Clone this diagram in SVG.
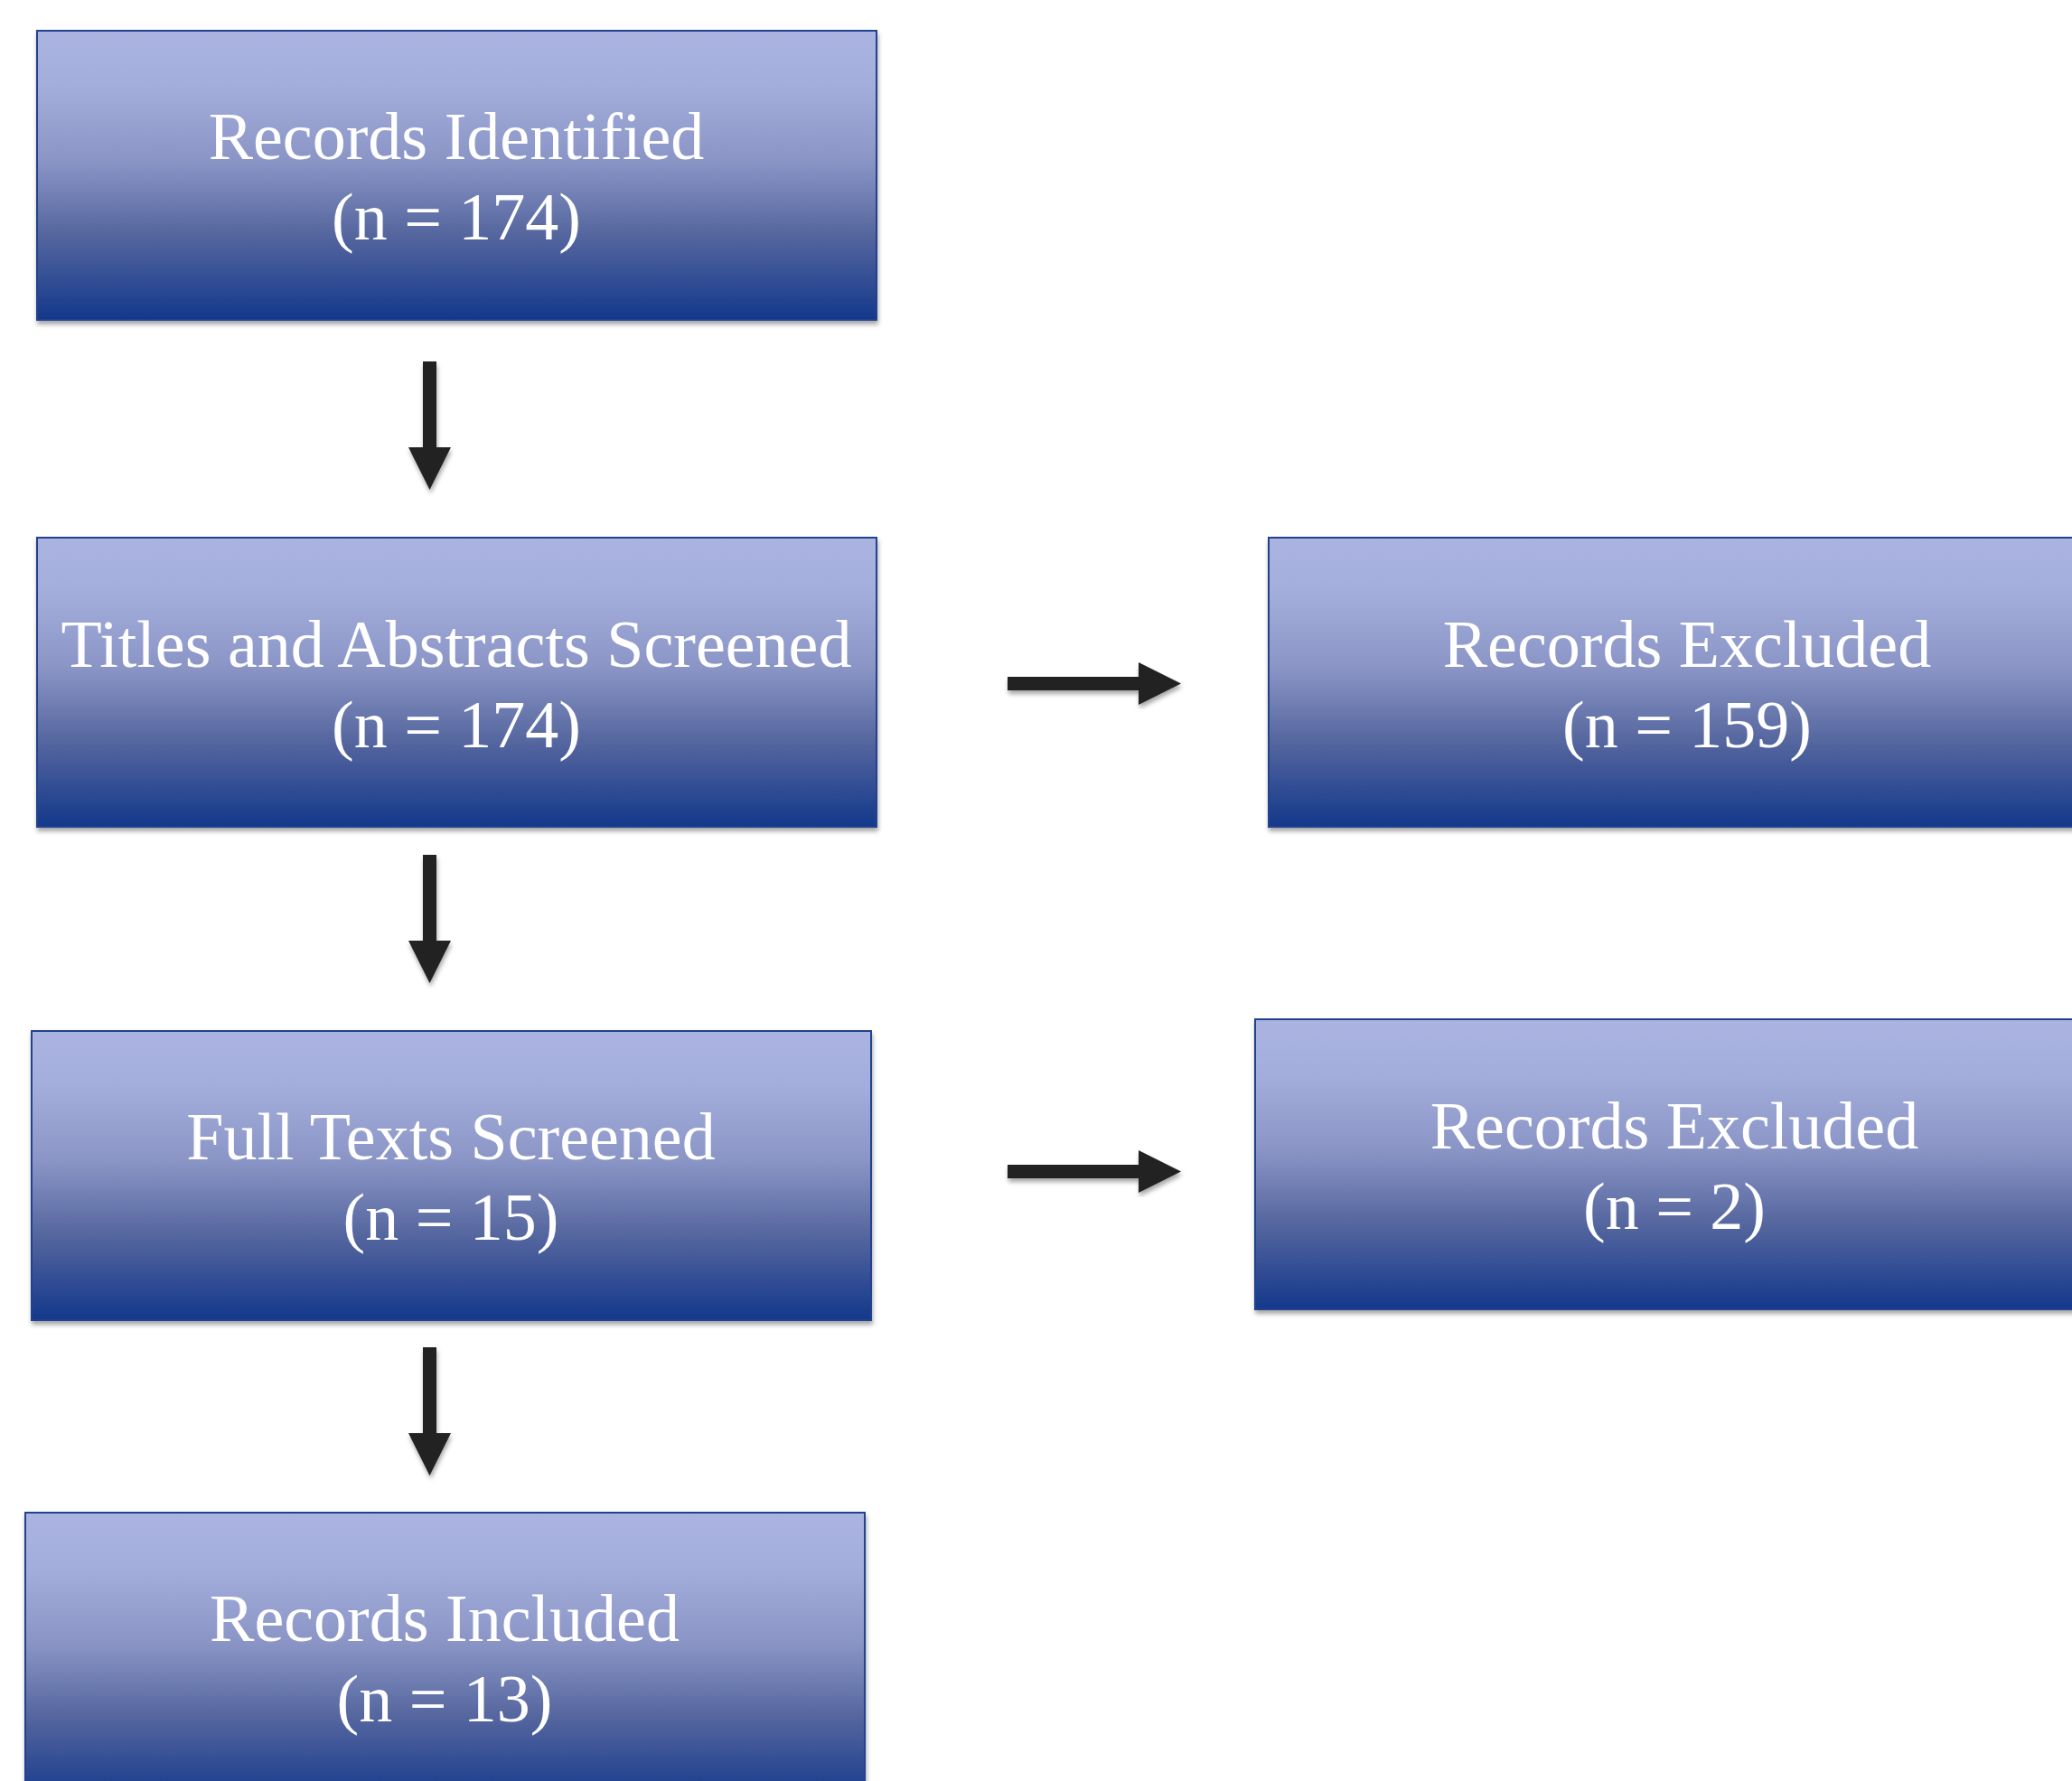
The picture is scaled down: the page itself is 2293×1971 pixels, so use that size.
<svg xmlns="http://www.w3.org/2000/svg" width="2293" height="1971" viewBox="0 0 2293 1971">
<defs>
<linearGradient id="boxGrad" x1="0" y1="0" x2="0" y2="1">
<stop offset="0" stop-color="#abb4e1"/>
<stop offset="0.2" stop-color="#a3addb"/>
<stop offset="0.45" stop-color="#8a95c6"/>
<stop offset="0.7" stop-color="#56679f"/>
<stop offset="1" stop-color="#14388b"/>
</linearGradient>
<filter id="shadow" x="-5%" y="-5%" width="110%" height="115%">
<feDropShadow dx="1" dy="4" stdDeviation="2.5" flood-color="#000" flood-opacity="0.35"/>
</filter>
</defs>
<style>
.box{fill:url(#boxGrad);stroke:#22428f;stroke-width:2;filter:url(#shadow)}
.lbl{font-family:"Liberation Serif","Times New Roman",serif;font-size:74px;fill:#ffffff;text-anchor:middle}
.arr{fill:#222222;filter:url(#shadow)}
</style>
<rect width="2293" height="1971" fill="#ffffff"/>
<g id="records-identified">
<rect class="box" x="41" y="34" width="929" height="320"/>
<text class="lbl" x="505" y="176">Records Identified</text>
<text class="lbl" x="505" y="265">(n = 174)</text>
</g>
<g id="titles-abstracts">
<rect class="box" x="41" y="595" width="929" height="320"/>
<text class="lbl" x="505" y="738">Titles and Abstracts Screened</text>
<text class="lbl" x="505" y="827">(n = 174)</text>
</g>
<g id="excluded-159">
<rect class="box" x="1404" y="595" width="929" height="320"/>
<text class="lbl" x="1867" y="738">Records Excluded</text>
<text class="lbl" x="1867" y="827">(n = 159)</text>
</g>
<g id="full-texts">
<rect class="box" x="35" y="1141" width="929" height="320"/>
<text class="lbl" x="499" y="1283">Full Texts Screened</text>
<text class="lbl" x="499" y="1372">(n = 15)</text>
</g>
<g id="excluded-2">
<rect class="box" x="1389" y="1128" width="929" height="321"/>
<text class="lbl" x="1853" y="1271">Records Excluded</text>
<text class="lbl" x="1853" y="1360">(n = 2)</text>
</g>
<g id="records-included">
<rect class="box" x="28" y="1674" width="929" height="320"/>
<text class="lbl" x="492" y="1816">Records Included</text>
<text class="lbl" x="492" y="1905">(n = 13)</text>
</g>
<g id="connectors">
<polygon class="arr" points="468,400 483,400 483,495 499,495 475.5,542 452,495 468,495"/>
<polygon class="arr" points="468,946 483,946 483,1041 499,1041 475.5,1088 452,1041 468,1041"/>
<polygon class="arr" points="468,1491 483,1491 483,1586 499,1586 475.5,1633 452,1586 468,1586"/>
<polygon class="arr" points="1115,749 1260,749 1260,733 1307,756.5 1260,780 1260,764 1115,764"/>
<polygon class="arr" points="1115,1289 1260,1289 1260,1273 1307,1296.5 1260,1320 1260,1304 1115,1304"/>
</g>
</svg>
